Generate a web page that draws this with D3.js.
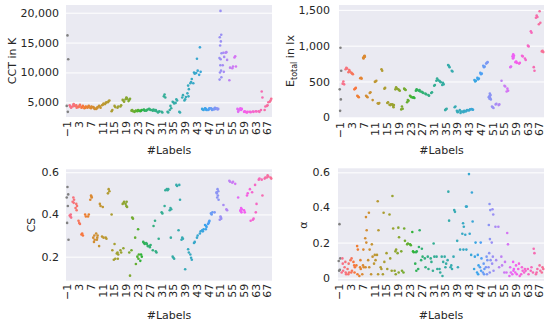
<!DOCTYPE html>
<html><head><meta charset="utf-8">
<script src="https://cdn.jsdelivr.net/npm/d3@7"></script>
<style>
body{margin:0;background:#fff}
svg{display:block}
text{font-family:"DejaVu Sans",sans-serif;fill:#262626}
</style>
</head><body>
<svg id="c" width="550" height="322"></svg>
<script>
// Category labels (-1 = noise, grey)
const labels = d3.range(-1, 69);
const xTickLabels = labels.filter(l => (l + 1) % 4 === 0);

// CCT in K, one list per label (-1 .. 68)
const cctValues = [
 [16200,12200,4400,3400],[4300,4100,4500,4200],[4600,4400,4300,4700],[4500,4200,4400,4100],
 [4300,4600,4200,4400],[4200,4400,4100,4300],[4100,4300,4000,4200],[4200,4400,4100,4300],
 [4000,4200,4100,4300],[4100,3900,4200,4000],[4000,4200,3900,4100],[4300,4100,4400],
 [4600,4800,4500],[4900,5000,4700],[5200,5300,5000],[3500,3700],
 [4400,4200],[4100,4300],[4300,4500],[5300,5100,5400],
 [5800,5600,5500,5700],[5400,5600,5200],[3700,3500,3600],[3500,3600,3400],
 [3700,3600,3500],[3600,3700,3500],[3800,3600,3700],[3700,3800,3600],
 [3800,3700,3900],[3600,3800,3700],[3700,3500,3600],[3400,3500,3300],
 [3400,3300],[6300,5800,6000],[3400,3300],[4400,4000,3700],
 [5000,4800,5100],[5500,5300,4900],[3400,3300],[5800,6200],
 [5500,5900,5300],[7800,7200,6500,6000],[8400,8900,8200],[10000,9800,8200],
 [12300,10300,9900],[14200,10100,9600],[3800,3700,3900],[3900,3700,4000,3800],
 [3800,4000,3700,3900],[3900,3800,4000,3700],[4000,3900,3800,4100],[3800,3900,4000],
 [20300,16300,15900,15200,14500,13200,12400,12200,11200,10300,10000,9200,8800],
 [13300,12600,11200,10100],[13400,12100,13300],[8700,10800],[10700,11000],
 [12700,11000,12500],[3400,3800,3900,3600],[3700,3900,4000],[3400,3500],
 [3300,3400,3350],[3400,3350],[3450,3400],[3500,3450],[3500,3400],
 [6800,5800,3700],[3700,4300],[4500,5000,4400],[5300,5600,5100]
];

// E_total in lx
const eValues = [
 [970,650,390,250,90],[500,460,470],[690,680,670],[660,640,630],
 [610,600,620],[400,410,390],[290,280,300],[550,540,545],
 [840,860,830,850,820,845],[290,280,300],[340,350],[240],
 [500,510,495],[190,200,195],[670,650],[400,410],
 [200,210],[170,180,175],[160,170,180,140],[420,400,390],
 [380,370,390],[150,120,110],[390,380,400],[240,230,210],
 [290,280,300],[280,270,275],[390,380,370],[380,360,370],
 [350,340,355],[330,320],[310,300],[340,350],
 [440,450],[540,520,510],[500,490,510],[480,460,450],
 [110,120,100],[720,700,730],[650,640],[140,150],
 [70,80,90],[60,80,100],[70,90,80],[90,100,80],
 [100,110,95],[110,105,115],[500,510,520],[530,540,550],
 [600,610,620],[700,710,720],[760,770,750],
 [330,310,290,270,260,250,280,300],[140,130,150],[180,190],[170,180],
 [510],[440,430],[400,370,360],[700,710],
 [880,860,850,830,820],[780,760,770],[750,760],[860,850],
 [820,800],[1000,990],[1200,1180],[700,650],
 [1420,1400,1390],[1480,1320,1300],[930,910,920]
];

// CS
const csValues = [
 [0.53,0.495,0.48,0.44,0.36,0.28],[0.39,0.385,0.395,0.40],[0.48,0.47,0.46,0.455],[0.45,0.44,0.43,0.42],
 [0.36,0.355,0.37],[0.31,0.30,0.305],[0.40,0.39],[0.39,0.40],
 [0.49,0.48,0.47,0.485],[0.27,0.28,0.29,0.30],[0.28,0.30,0.31,0.29],[0.45,0.44,0.25],
 [0.435,0.29,0.295],[0.29,0.285],[0.52,0.51,0.50],[0.40,0.23],
 [0.26,0.19,0.185],[0.22,0.21,0.215,0.19],[0.23,0.22],[0.24,0.46,0.45,0.455],
 [0.44,0.435,0.45,0.46],[0.22,0.11],[0.385,0.38,0.23],[0.29,0.165],
 [0.33,0.21,0.20,0.19],[0.21,0.20,0.18],[0.265,0.26,0.27],[0.26,0.25,0.265],
 [0.245,0.255,0.25],[0.23,0.345],[0.225,0.22,0.37],[0.285],
 [0.41,0.405],[0.44,0.515],[0.515,0.52,0.52],[0.43,0.425,0.42,0.29],
 [0.195,0.19,0.20],[0.54,0.535],[0.54,0.47,0.325],[0.29,0.285,0.28],
 [0.14],[0.235,0.22],[0.195,0.185,0.21],[0.265,0.27],
 [0.29,0.30],[0.31,0.32],[0.32,0.33,0.325],[0.33,0.34,0.35,0.345],
 [0.36,0.37,0.355,0.365],[0.40,0.41,0.405],[0.41],
 [0.52,0.51,0.50,0.49,0.48,0.47,0.505],[0.39,0.38,0.375,0.385],[0.445],[0.425,0.42],
 [0.56,0.555],[0.55,0.555],[0.545],[0.48],
 [0.43,0.425,0.42,0.41,0.415],[0.42,0.41],[0.49,0.50],[0.52,0.37],
 [0.375,0.38,0.505],[0.41,0.45,0.54],[0.565,0.57],[0.565,0.49],
 [0.57,0.575],[0.585,0.58,0.575],[0.575,0.57]
];

// alpha
const alphaValues = [
 [0.305,0.11,0.095,0.045,0.04],[0.11,0.04,0.03,0.08],[0.09,0.02,0.06,0.03],[0.02,0.03,0.05,0.08],
 [0.03,0.04,0.10,0.11],[0.07,0.06,0.09,0.03],[0.18,0.16,0.07,0.02],[0.06,0.05,0.01,0.10],
 [0.07,0.06,0.02,0.16],[0.345,0.27,0.225,0.20,0.06],[0.37,0.16,0.10,0.06],[0.19,0.12,0.02],
 [0.13,0.10,0.08],[0.435,0.27,0.13,0.02],[0.06,0.05],[0.37,0.09,0.02],
 [0.14,0.05],[0.36,0.11],[0.465,0.28,0.04],[0.15,0.16,0.04,0.02],
 [0.285,0.23,0.14,0.03],[0.15,0.04],[0.28,0.21,0.03],[0.19,0.195],
 [0.19,0.185],[0.15,0.145,0.26],[0.145,0.15,0.08,0.04],[0.175,0.27,0.05],
 [0.165,0.12,0.10],[0.11,0.06],[0.12,0.05],[0.11,0.09],
 [0.195,0.12,0.04],[0.12,0.05],[0.05,0.03],[0.01,0.09,0.12],
 [0.06,0.08,0.12],[0.49,0.325,0.10],[0.07,0.05,0.06],[0.385,0.375,0.12],
 [0.21,0.06],[0.16],[0.31,0.29,0.25,0.16],[0.405,0.405,0.245,0.16],
 [0.59,0.25],[0.485,0.32,0.13],[0.12,0.20,0.05],[0.13,0.07,0.03,0.02],
 [0.20,0.11,0.06,0.04],[0.08,0.05,0.03,0.02],[0.12,0.10,0.06,0.02],
 [0.42,0.385,0.30,0.22,0.14,0.10,0.06,0.03],[0.39,0.36,0.20,0.12,0.08,0.04],[0.29,0.10],[0.29,0.06],
 [0.12,0.07],[0.03,0.09],[0.255,0.19,0.03],[0.06,0.03,0.01],
 [0.09,0.05,0.02,0.04],[0.07,0.02,0.03],[0.08,0.01,0.05],[0.06,0.04,0.02],
 [0.05,0.04,0.03],[0.05,0.02],[0.04,0.06],[0.165,0.14,0.03],
 [0.03,0.05,0.02],[0.07,0.04],[0.06,0.05,0.03]
];

// ---- seaborn husl palette ----
const M = [[3.2406,-1.5372,-0.4986],[-0.9689,1.8758,0.0415],[0.0557,-0.2040,1.0570]];
function maxChroma(L, H) {
  const hr = H / 360 * 2 * Math.PI, sinH = Math.sin(hr), cosH = Math.cos(hr);
  const sub1 = Math.pow(L + 16, 3) / 1560896;
  const sub2 = sub1 > 0.008856 ? sub1 : L / 903.3;
  let res = Infinity;
  for (const [m1, m2, m3] of M) {
    const top = (0.99915 * m1 + 1.05122 * m2 + 1.14460 * m3) * sub2;
    const rb = 0.86330 * m3 - 0.17266 * m2;
    const lb = 0.12949 * m3 - 0.38848 * m1;
    const bottom = (rb * sinH + lb * cosH) * sub2;
    for (const t of [0, 1]) {
      const C = L * (top - 1.05122 * t) / (bottom + 0.17266 * sinH * t);
      if (C > 0 && C < res) res = C;
    }
  }
  return res;
}
function husl(H, S, L) {
  const C = maxChroma(L, H) / 100 * S;
  const hr = H / 180 * Math.PI;
  const U = Math.cos(hr) * C, V = Math.sin(hr) * C;
  const t = (L + 16) / 116;
  const Y = Math.pow(t, 3) > 0.008856 ? Math.pow(t, 3) : (116 * t - 16) / 903.3;
  const vu = U / (13 * L) + 0.19784, vv = V / (13 * L) + 0.46834;
  const X = -(9 * Y * vu) / ((vu - 4) * vv - vu * vv);
  const Z = (9 * Y - 15 * vv * Y - vv * X) / (3 * vv);
  const f = c => c <= 0.0031308 ? 12.92 * c : 1.055 * Math.pow(c, 1 / 2.4) - 0.055;
  const rgb = M.map(r => Math.max(0, Math.min(1, f(r[0] * X + r[1] * Y + r[2] * Z))) * 255);
  return d3.rgb(rgb[0], rgb[1], rgb[2]).formatHex();
}
const nCol = labels.length - 1;
const palette = d3.range(nCol).map(i => husl((((i / nCol) + 0.01) % 1) * 359, 0.9 * 99, 0.65 * 99));
const color = d3.scaleOrdinal().domain(labels).range(["#808080", ...palette]);

const svg = d3.select("#c");
const jit = [0, 0.25, -0.25, 0.12, -0.12, 0.35, -0.35, 0.06, -0.06, 0.18, -0.18, 0.3, -0.3];

const panels = [
  {values: cctValues, x0: 66, x1: 272, y0: 5, y1: 117, domain: [2540, 21290],
   ticks: [5000, 10000, 15000, 20000], fmt: d3.format(","), pad: 7,
   ylabel: "CCT in K", ylx: 16, yly: 61, tickY: 4, xlabY: 153.5},
  {values: eValues, x0: 339, x1: 544, y0: 5, y1: 118, domain: [-10, 1568],
   ticks: [0, 500, 1000, 1500], fmt: d3.format(","), pad: 9,
   ylabel: "E", sub: "total", rest: " in lx", ylx: 294, yly: 61, tickY: 4, xlabY: 153.5},
  {values: csValues, x0: 66, x1: 272, y0: 169.3, y1: 280.7, domain: [0.086, 0.614],
   ticks: [0.2, 0.4, 0.6], fmt: d3.format(".1f"), pad: 7,
   ylabel: "CS", ylx: 35, yly: 225, tickY: 3, xlabY: 319},
  {values: alphaValues, x0: 338, x1: 544, y0: 168.3, y1: 280.7, domain: [-0.017, 0.623],
   ticks: [0, 0.2, 0.4, 0.6], fmt: d => d === 0 ? "0" : d3.format(".1f")(d), pad: 8,
   ylabel: "α", ylx: 306.5, yly: 225, tickY: 3, xlabY: 319}
];

panels.forEach(p => {
  const x = d3.scaleBand().domain(labels).range([p.x0, p.x1]).padding(0);
  const y = d3.scaleLinear().domain(p.domain).range([p.y1, p.y0]);
  const g = svg.append("g");
  g.append("rect").attr("x", p.x0).attr("y", p.y0)
    .attr("width", p.x1 - p.x0).attr("height", p.y1 - p.y0).attr("fill", "#eaeaf2");

  const ya = g.append("g").attr("transform", `translate(${p.x0},0)`)
    .call(d3.axisLeft(y).tickValues(p.ticks).tickFormat(p.fmt)
      .tickSize(-(p.x1 - p.x0)).tickPadding(p.pad));
  ya.select(".domain").remove();
  ya.selectAll("line").attr("stroke", "#fff").attr("stroke-width", 1);
  ya.selectAll("text").attr("font-size", 11).attr("fill", "#262626")
    .attr("font-family", '"DejaVu Sans",sans-serif');

  const xa = g.append("g").attr("transform", `translate(0,${p.y1})`)
    .call(d3.axisBottom(x).tickValues(xTickLabels).tickSize(0).tickFormat(d3.format("d")));
  xa.select(".domain").remove();
  xa.selectAll("text").attr("font-size", 11).attr("fill", "#262626")
    .attr("font-family", '"DejaVu Sans",sans-serif')
    .attr("transform", "rotate(-90)").attr("text-anchor", "end")
    .attr("x", -p.tickY).attr("y", 0).attr("dy", "0.35em");

  const pts = [];
  labels.forEach((l, i) => {
    p.values[i].forEach((v, j) => pts.push({l, v, j}));
  });
  g.append("g").selectAll("circle").data(pts).join("circle")
    .attr("cx", d => x(d.l) + x.bandwidth() / 2 + jit[d.j % jit.length] * x.bandwidth())
    .attr("cy", d => y(d.v))
    .attr("r", 1.3)
    .attr("fill", d => color(d.l));

  g.append("text").attr("x", (p.x0 + p.x1) / 2).attr("y", p.xlabY)
    .attr("text-anchor", "middle").attr("font-size", 11).text("#Labels");

  const yl = g.append("text").attr("transform", `translate(${p.ylx},${p.yly}) rotate(-90)`)
    .attr("text-anchor", "middle").attr("font-size", 11);
  yl.append("tspan").text(p.ylabel);
  if (p.sub) {
    yl.append("tspan").attr("font-size", 8).attr("dy", 2.5).text(p.sub);
    yl.append("tspan").attr("dy", -2.5).text(p.rest);
  }
});
</script>
</body></html>
